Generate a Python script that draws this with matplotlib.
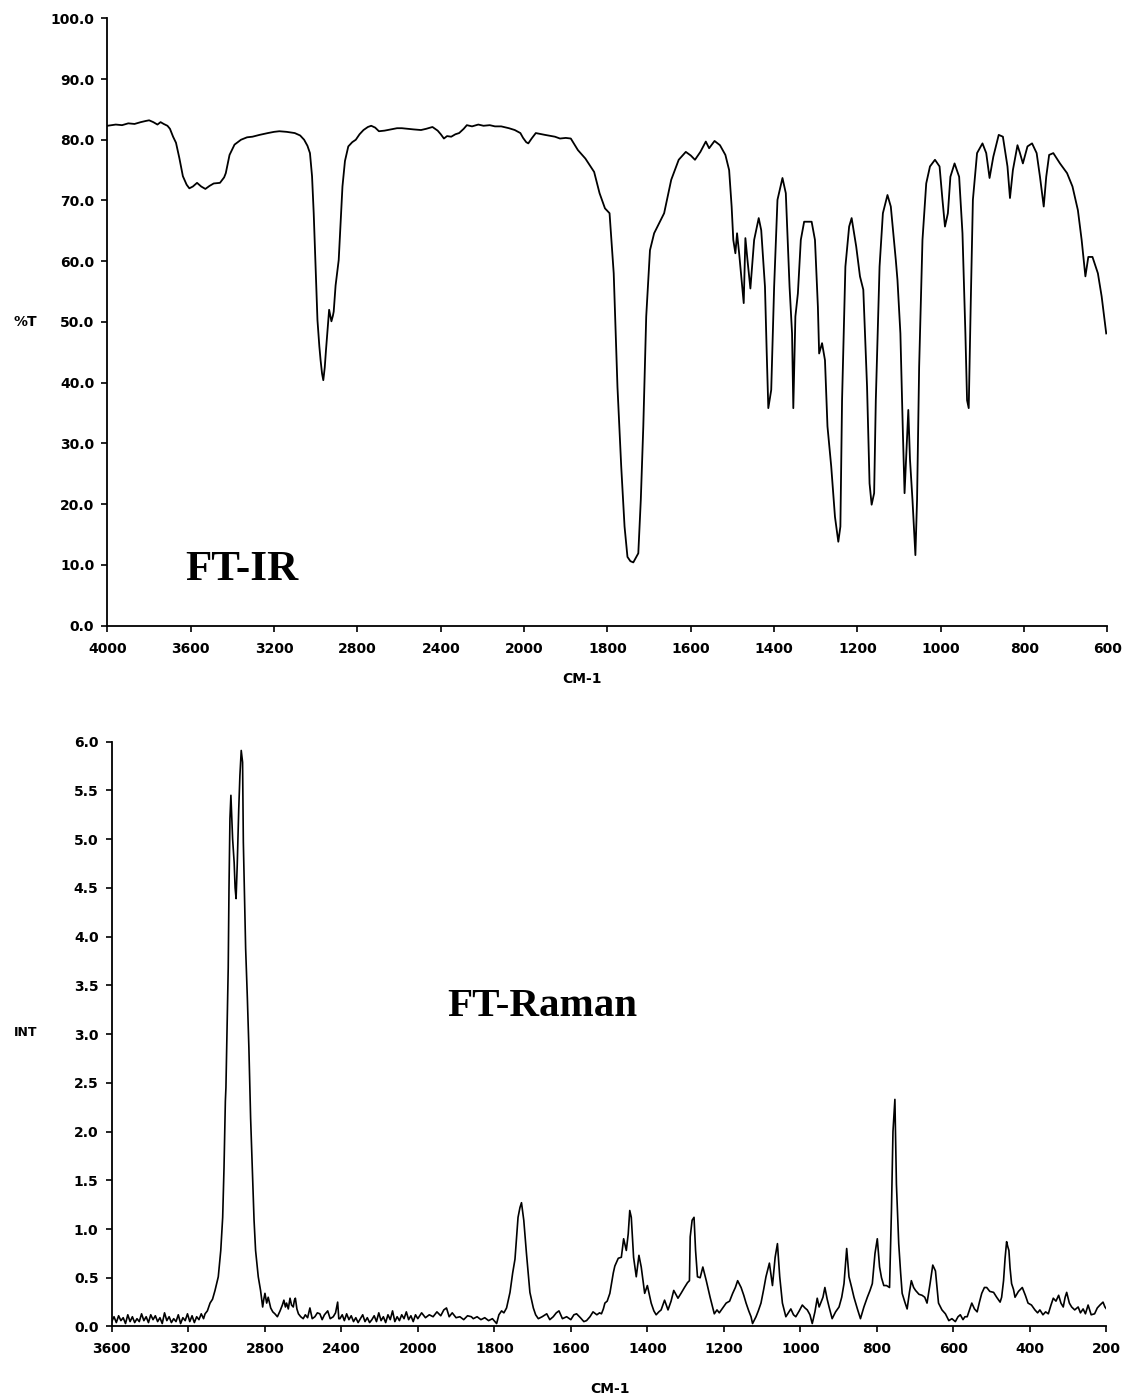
import numpy as np
import matplotlib
matplotlib.use("Agg")
import matplotlib.pyplot as plt

plt.rcParams['font.family'] = ['DejaVu Sans']
plt.rcParams['font.weight'] = 'bold'

# ---------------- FT-IR data (wavenumber cm-1, %T) ----------------
ir_wn = [4000, 3960, 3930, 3900, 3870, 3840, 3815, 3800, 3780, 3760, 3745, 3730, 3712, 3700,
         3685, 3671, 3655, 3638, 3620, 3607, 3590, 3570, 3550, 3530, 3510, 3490, 3460, 3440,
         3432, 3414, 3390, 3359, 3330, 3304, 3270, 3230, 3200, 3175, 3140, 3101, 3075, 3056,
         3040, 3028, 3018, 3010, 3000, 2992, 2983, 2977, 2970, 2964, 2957, 2951, 2943, 2936,
         2930, 2925, 2918, 2914, 2905, 2890, 2880, 2872, 2860, 2844, 2825, 2808, 2790, 2771,
         2750, 2734, 2715, 2697, 2670, 2640, 2610, 2587, 2560, 2530, 2495, 2470, 2440, 2415,
         2400, 2385, 2370, 2350, 2330, 2312, 2290, 2275, 2250, 2220, 2195, 2165, 2140, 2110,
         2073, 2045, 2018, 2005, 1995, 1990, 1982, 1972, 1950, 1926, 1914, 1900, 1888, 1871,
         1853, 1832, 1819, 1806, 1795, 1785, 1776, 1767, 1759, 1752, 1745, 1738, 1726, 1720,
         1714, 1707, 1698, 1688, 1672, 1664, 1647, 1629, 1612, 1600, 1590, 1577, 1564, 1556,
         1543, 1530, 1517, 1508, 1502, 1498, 1493, 1489, 1484, 1478, 1473, 1469, 1464, 1457,
         1448, 1437, 1431, 1422, 1418, 1414, 1407, 1400, 1392, 1380, 1372, 1363, 1357, 1354,
         1349, 1343, 1336, 1328, 1310, 1302, 1295, 1292, 1285, 1278, 1272, 1263, 1254, 1246,
         1241, 1237, 1229, 1220, 1214, 1203, 1194, 1186, 1177, 1171, 1166, 1160, 1156, 1147,
         1139, 1128, 1120, 1108, 1104, 1097, 1091, 1087, 1083, 1078, 1074, 1068, 1061, 1057,
         1052, 1044, 1035, 1026, 1014, 1003, 996, 990, 983, 977, 967, 956, 948, 941, 937, 933,
         928, 923, 913, 900, 891, 883, 874, 861, 851, 840, 834, 827, 816, 810, 803, 792, 781,
         770, 762, 753, 747, 740, 730, 714, 697, 684, 671, 662, 653, 646, 636, 623, 614, 603]
ir_t = [82.3, 82.5, 82.4, 82.7, 82.6, 82.9, 83.1, 83.2, 82.9, 82.5, 82.9, 82.6, 82.3, 81.8,
        80.5, 79.5, 77.0, 74.0, 72.6, 72.0, 72.3, 72.9, 72.3, 71.9, 72.4, 72.8, 72.9, 73.8,
        74.5, 77.5, 79.2, 80.0, 80.4, 80.5, 80.8, 81.1, 81.3, 81.4, 81.3, 81.1, 80.7, 80.0,
        79.0, 77.8, 74.0, 67.9, 58.0, 50.3, 46.0, 43.7, 41.5, 40.4, 42.5, 45.4, 49.0, 52.0,
        51.0, 50.1, 51.0, 51.7, 56.0, 60.2, 67.0, 72.3, 76.5, 78.9, 79.6, 80.0, 80.9, 81.6,
        82.1, 82.3, 82.0, 81.4, 81.5, 81.7, 81.9, 81.9, 81.8, 81.7, 81.6, 81.8, 82.1, 81.5,
        80.9, 80.2, 80.6, 80.5, 80.9, 81.1, 81.8, 82.4, 82.2, 82.5, 82.3, 82.4, 82.2, 82.2,
        81.9, 81.6, 81.1, 80.3, 79.6, 79.4, 80.2, 81.1, 80.8, 80.5, 80.2, 80.3, 80.2, 78.3,
        76.9, 74.7, 71.2, 68.7, 67.9, 58.0, 39.3, 26.2, 16.3, 11.3, 10.6, 10.4, 11.9, 20.7,
        32.8, 50.9, 61.8, 64.6, 66.8, 67.9, 73.4, 76.7, 78.0, 77.4, 76.7, 78.0, 79.7, 78.6,
        79.8, 79.1, 77.5, 75.0, 69.0, 63.5, 61.3, 64.6, 61.3, 56.9, 53.1, 63.8, 60.2, 55.5,
        63.5, 67.1, 65.1, 55.8, 45.4, 35.8, 38.8, 55.8, 70.1, 73.7, 71.2, 55.8, 48.1, 35.8,
        50.9, 54.7, 63.5, 66.5, 66.5, 63.5, 52.5, 44.8, 46.5, 43.7, 32.8, 26.2, 17.9, 13.8,
        16.3, 37.1, 59.1, 65.7, 67.1, 62.4, 57.5, 55.3, 39.3, 23.4, 19.9, 21.8, 37.1, 59.1,
        67.9, 70.9, 69.0, 60.2, 56.9, 48.1, 31.7, 21.8, 27.8, 35.5, 27.4, 20.7, 11.6, 20.7,
        42.6, 63.5, 72.8, 75.6, 76.7, 75.6, 70.1, 65.7, 67.9, 73.9, 76.1, 73.9, 64.6, 48.1, 37.1, 35.8,
        53.6, 70.1, 77.8, 79.4, 77.8, 73.7, 77.2, 80.8, 80.5, 75.6, 70.4, 75.0, 79.1, 77.8, 76.1, 78.9, 79.4,
        77.8, 73.9, 69.0, 73.9, 77.5, 77.8, 76.1, 74.5, 72.3, 68.4, 63.5, 57.5, 60.7, 60.7, 58.0, 54.2, 48.1]

# ---------------- FT-Raman data (wavenumber cm-1, intensity) ----------------
ra_wn = [3600, 3588, 3576, 3564, 3552, 3540, 3528, 3516, 3504, 3492, 3480, 3468, 3456, 3444,
         3432, 3420, 3408, 3396, 3384, 3372, 3360, 3348, 3336, 3324, 3312, 3300, 3288, 3276,
         3264, 3252, 3240, 3228, 3216, 3204, 3192, 3180, 3168, 3156, 3144, 3132, 3120, 3112,
         3100, 3086, 3073, 3060, 3043, 3030, 3020, 3013, 3006, 3003, 2996, 2991, 2987, 2982,
         2977, 2972, 2968, 2960, 2955, 2950, 2944, 2936, 2930, 2923, 2916, 2912, 2900, 2891,
         2883, 2874, 2865, 2856, 2848, 2834, 2822, 2811, 2805, 2799, 2790, 2782, 2769, 2758,
         2747, 2734, 2720, 2708, 2700, 2692, 2686, 2677, 2668, 2660, 2651, 2645, 2640, 2632,
         2624, 2612, 2599, 2588, 2576, 2564, 2552, 2538, 2525, 2512, 2500, 2488, 2471, 2458,
         2442, 2430, 2419, 2413, 2407, 2395, 2384, 2372, 2360, 2348, 2336, 2324, 2312, 2300,
         2288, 2276, 2264, 2252, 2240, 2228, 2216, 2204, 2192, 2180, 2168, 2156, 2144, 2132,
         2120, 2108, 2096, 2084, 2072, 2060, 2048, 2036, 2024, 2012, 2000, 1990, 1980, 1970,
         1960, 1950, 1940, 1932, 1925, 1918, 1910, 1900, 1890, 1880, 1870, 1860, 1855, 1845,
         1835, 1825, 1815, 1805, 1794, 1788, 1781, 1775, 1768, 1759, 1752, 1746, 1738, 1733,
         1729, 1723, 1716, 1707, 1698, 1692, 1685, 1675, 1663, 1655, 1646, 1638, 1631, 1622,
         1611, 1600, 1592, 1585, 1575, 1566, 1559, 1550, 1542, 1532, 1525, 1520, 1515, 1511,
         1505, 1498, 1489, 1485, 1476, 1468, 1462, 1455, 1450, 1446, 1442, 1436, 1429, 1422,
         1416, 1407, 1400, 1390, 1383, 1377, 1370, 1364, 1355, 1346, 1338, 1331, 1320, 1312,
         1303, 1295, 1290, 1288, 1283, 1278, 1274, 1269, 1262, 1255, 1246, 1236, 1225, 1218,
         1212, 1203, 1194, 1185, 1177, 1170, 1164, 1155, 1148, 1142, 1135, 1129, 1125, 1120,
         1116, 1110, 1103, 1096, 1090, 1081, 1073, 1066, 1060, 1054, 1047, 1038, 1030, 1025,
         1018, 1012, 1003, 995, 988, 982, 975, 969, 962, 956, 951, 947, 941, 936, 930, 925,
         917, 908, 899, 892, 886, 879, 873, 866, 860, 851, 843, 834, 825, 818, 812, 805, 799,
         793, 788, 782, 775, 767, 762, 758, 753, 749, 743, 738, 734, 727, 721, 715, 710, 704,
         699, 690, 682, 675, 669, 661, 654, 647, 643, 639, 630, 621, 612, 604, 595, 588, 582,
         575, 570, 564, 558, 552, 545, 538, 532, 526, 519, 513, 505, 495, 487, 478, 474, 469,
         465, 461, 458, 455, 452, 448, 443, 439, 430, 425, 420, 412, 405, 396, 387, 380, 374,
         366, 359, 352, 345, 339, 332, 325, 319, 313, 308, 304, 297, 291, 283, 274, 268, 261,
         255, 248, 240, 231, 224, 217, 209, 204, 200]
ra_int = [0.05, 0.10, 0.04, 0.11, 0.06, 0.09, 0.03, 0.12, 0.05, 0.10, 0.04, 0.08, 0.05, 0.13,
          0.06, 0.10, 0.04, 0.12, 0.07, 0.11, 0.05, 0.09, 0.03, 0.14, 0.06, 0.10, 0.04, 0.08,
          0.05, 0.12, 0.03, 0.09, 0.06, 0.13, 0.05, 0.11, 0.04, 0.10, 0.07, 0.13, 0.08, 0.13,
          0.16, 0.24, 0.28, 0.37, 0.51, 0.78, 1.12, 1.63, 2.31, 2.45, 3.16, 3.68, 4.49, 5.21,
          5.45, 5.20, 5.00, 4.76, 4.50, 4.39, 4.73, 5.31, 5.65, 5.91, 5.79, 4.97, 3.88, 3.37,
          2.86, 2.14, 1.63, 1.09, 0.78, 0.51, 0.37, 0.20, 0.28, 0.34, 0.24, 0.30, 0.19, 0.15,
          0.13, 0.10, 0.16, 0.22, 0.27, 0.20, 0.24, 0.18, 0.29, 0.22, 0.20, 0.27, 0.29, 0.18,
          0.13, 0.10, 0.08, 0.12, 0.09, 0.19, 0.08, 0.10, 0.14, 0.13, 0.07, 0.12, 0.16, 0.08,
          0.10, 0.14, 0.25, 0.08, 0.08, 0.12, 0.06, 0.13, 0.07, 0.11, 0.05, 0.09, 0.04, 0.08,
          0.12, 0.05, 0.09, 0.04, 0.07, 0.11, 0.05, 0.14, 0.06, 0.10, 0.04, 0.12, 0.07, 0.16,
          0.05, 0.10, 0.06, 0.12, 0.08, 0.15, 0.07, 0.11, 0.05, 0.12, 0.08, 0.14, 0.09, 0.12,
          0.10, 0.15, 0.11, 0.17, 0.19, 0.10, 0.14, 0.09, 0.10, 0.07, 0.11, 0.10, 0.08, 0.10,
          0.07, 0.09, 0.06, 0.08, 0.03, 0.12, 0.16, 0.14, 0.19, 0.35, 0.55, 0.69, 1.12, 1.22,
          1.27, 1.09, 0.75, 0.35, 0.19, 0.12, 0.08, 0.10, 0.13, 0.07, 0.10, 0.14, 0.16, 0.08,
          0.10, 0.07, 0.12, 0.13, 0.09, 0.05, 0.06, 0.10, 0.15, 0.12, 0.14, 0.13, 0.18, 0.24,
          0.26, 0.34, 0.55, 0.62, 0.70, 0.71, 0.90, 0.78, 0.95, 1.19, 1.12, 0.71, 0.51, 0.73,
          0.61, 0.34, 0.42, 0.24, 0.16, 0.12, 0.15, 0.17, 0.27, 0.17, 0.26, 0.37, 0.29, 0.34,
          0.40, 0.45, 0.47, 0.92, 1.09, 1.12, 0.78, 0.51, 0.50, 0.61, 0.47, 0.30, 0.13, 0.17,
          0.14, 0.19, 0.24, 0.26, 0.34, 0.40, 0.47, 0.40, 0.32, 0.24, 0.16, 0.10, 0.03, 0.07,
          0.10, 0.16, 0.24, 0.38, 0.51, 0.65, 0.42, 0.71, 0.85, 0.51, 0.24, 0.10, 0.15, 0.18,
          0.12, 0.10, 0.16, 0.22, 0.19, 0.17, 0.12, 0.03, 0.15, 0.29, 0.20, 0.24, 0.30, 0.40, 0.28, 0.20,
          0.08, 0.15, 0.20, 0.30, 0.44, 0.80, 0.51, 0.40, 0.30, 0.18, 0.08, 0.20, 0.30, 0.37, 0.44, 0.75, 0.90,
          0.61, 0.50, 0.42, 0.42, 0.40, 1.19, 2.00, 2.33, 1.46, 0.85, 0.55, 0.34, 0.25, 0.18, 0.35, 0.47, 0.40,
          0.37, 0.33, 0.32, 0.30, 0.24, 0.44, 0.63, 0.57, 0.40, 0.24, 0.17, 0.13, 0.06, 0.08, 0.05, 0.10, 0.12,
          0.07, 0.10, 0.10, 0.17, 0.24, 0.18, 0.15, 0.25, 0.34, 0.40, 0.40, 0.36, 0.35, 0.30, 0.25, 0.30, 0.47,
          0.70, 0.87, 0.82, 0.78, 0.60, 0.44, 0.38, 0.30, 0.36, 0.38, 0.40, 0.32, 0.24, 0.22, 0.17, 0.14, 0.17,
          0.12, 0.15, 0.13, 0.22, 0.29, 0.26, 0.32, 0.24, 0.20, 0.30, 0.35, 0.24, 0.20, 0.17, 0.20, 0.14, 0.18,
          0.13, 0.22, 0.12, 0.13, 0.19, 0.22, 0.25, 0.20, 0.18]

ir_xticks = [4000, 3600, 3200, 2800, 2400, 2000, 1800, 1600, 1400, 1200, 1000, 800, 600]
ir_yticks = [0, 10, 20, 30, 40, 50, 60, 70, 80, 90, 100]
ra_xticks = [3600, 3200, 2800, 2400, 2000, 1800, 1600, 1400, 1200, 1000, 800, 600, 400, 200]
ra_yticks = [0.0, 0.5, 1.0, 1.5, 2.0, 2.5, 3.0, 3.5, 4.0, 4.5, 5.0, 5.5, 6.0]


# piecewise-linear wavenumber axis: 400 cm-1 per division above 2000, 200 below
def fwd(w):
    w = np.asarray(w, dtype=float)
    return np.where(w >= 2000, (w - 2000) / 400.0, (w - 2000) / 200.0)


def inv(p):
    p = np.asarray(p, dtype=float)
    return np.where(p >= 0, 2000 + 400 * p, 2000 + 200 * p)


fig = plt.figure(figsize=(11.24, 13.96), dpi=100)
ax1 = fig.add_axes([0.0956, 0.5519, 0.8897, 0.4350])
ax2 = fig.add_axes([0.0994, 0.0498, 0.8850, 0.4189])

for ax in (ax1, ax2):
    ax.set_xscale('function', functions=(fwd, inv))
    for s in ('top', 'right'):
        ax.spines[s].set_visible(False)
    for s in ('left', 'bottom'):
        ax.spines[s].set_linewidth(1.3)
    ax.tick_params(axis='both', direction='out', length=4.5, width=1.2, labelsize=10)
    ax.tick_params(axis='x', pad=7)
    ax.tick_params(axis='y', pad=5)
    ax.minorticks_off()

ax1.plot(ir_wn, ir_t, color='black', lw=1.3)
ax1.set_xlim(4000, 600)
ax1.set_ylim(0, 100)
ax1.set_xticks(ir_xticks)
ax1.set_xticklabels([str(t) for t in ir_xticks])
ax1.set_yticks(ir_yticks)
ax1.set_yticklabels(['%.1f' % t for t in ir_yticks])
ax1.minorticks_off()

ax2.plot(ra_wn, ra_int, color='black', lw=1.2)
ax2.set_xlim(3600, 200)
ax2.set_ylim(0, 6.0)
ax2.set_xticks(ra_xticks)
ax2.set_xticklabels([str(t) for t in ra_xticks])
ax2.set_yticks(ra_yticks)
ax2.set_yticklabels(['%.1f' % t for t in ra_yticks])
ax2.minorticks_off()

# axis labels
fig.text(25 / 1124, 1 - 322 / 1396, '%T', ha='center', va='center', fontsize=10, fontweight='bold')
fig.text(26 / 1124, 1 - 1033 / 1396, 'INT', ha='center', va='center', fontsize=9, fontweight='bold')
fig.text(582 / 1124, 1 - 679 / 1396, 'CM-1', ha='center', va='center', fontsize=10, fontweight='bold')
fig.text(610 / 1124, 1 - 1389 / 1396, 'CM-1', ha='center', va='center', fontsize=10, fontweight='bold')

# spectrum titles
fig.text(185 / 1124, 1 - 580 / 1396, 'FT-IR', ha='left', va='baseline',
         fontsize=31, fontweight='bold', family=['Liberation Serif', 'DejaVu Serif'])
fig.text(447 / 1124, 1 - 1016 / 1396, 'FT-Raman', ha='left', va='baseline',
         fontsize=29.5, fontweight='bold', family=['Liberation Serif', 'DejaVu Serif'])

fig.savefig('out.png', dpi=100)
